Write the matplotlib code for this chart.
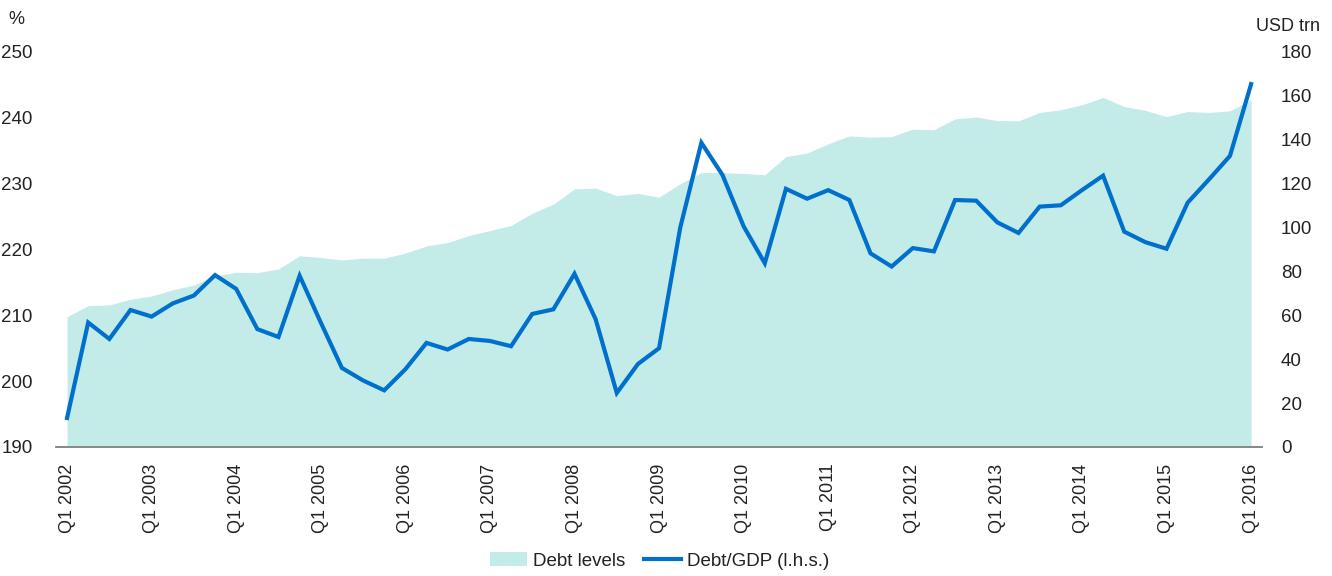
import matplotlib
matplotlib.use("Agg")
import matplotlib.pyplot as plt
from matplotlib.patches import Patch
from matplotlib.lines import Line2D
import numpy as np

plt.rcParams['font.family'] = ['Liberation Sans', 'DejaVu Sans']

# quarterly, Q1 2002 .. Q1 2016
quarters = [f"Q{q} {y}" for y in range(2002, 2017) for q in range(1, 5)][:57]
year_labels = [f"Q1 {y}" for y in range(2002, 2017)]

# Debt/GDP (%), left axis
debt_gdp = [194.4, 208.9, 206.4, 210.8, 209.8, 211.8, 213.0, 216.1, 214.0, 207.9,
            206.7, 216.0, 208.9, 202.0, 200.1, 198.6, 201.8, 205.8, 204.8, 206.4,
            206.1, 205.3, 210.2, 210.9, 216.3, 209.4, 198.2, 202.6, 205.0, 223.3,
            236.2, 231.3, 223.5, 217.9, 229.2, 227.7, 229.0, 227.5, 219.4, 217.4,
            220.2, 219.7, 227.5, 227.4, 224.1, 222.5, 226.5, 226.7, 229.0, 231.2,
            222.7, 221.1, 220.1, 227.1, 230.6, 234.2, 245.1]

# Debt levels (USD trn), right axis
debt_levels = [59.4, 64.4, 64.7, 67.3, 68.8, 71.6, 73.8, 77.9, 79.6, 79.4,
               81.1, 87.1, 86.3, 85.2, 86.0, 86.0, 88.3, 91.6, 93.1, 96.3,
               98.6, 100.9, 106.5, 110.6, 117.6, 117.9, 114.5, 115.5, 113.8, 119.9,
               125.0, 125.0, 124.6, 124.0, 132.3, 133.9, 138.1, 141.7, 141.1, 141.4,
               144.8, 144.5, 149.5, 150.3, 148.7, 148.6, 152.4, 153.6, 155.9, 159.2,
               155.1, 153.3, 150.5, 152.8, 152.4, 153.1, 158.2]

fill_color = '#C3ECE9'
line_color = '#0070CC'
text_color = '#222222'

x = np.arange(len(quarters))

fig = plt.figure(figsize=(13.32, 5.76), dpi=100)
ax = fig.add_axes([0.0424, 0.224, 0.9048, 0.686])
ax2 = ax.twinx()

ax2.fill_between(x, 0, debt_levels, color=fill_color, linewidth=0)
ax.plot(x, debt_gdp, color=line_color, linewidth=3, solid_joinstyle='miter')

# line above the area
ax.set_zorder(ax2.get_zorder() + 1)
ax.patch.set_visible(False)

ax.set_xlim(-0.5, 56.5)
ax.set_ylim(190, 250)
ax2.set_ylim(0, 180)
ax.set_yticks(range(190, 251, 10))
ax2.set_yticks(range(0, 181, 20))
ax.set_xticks(range(0, 57, 4))
ax.set_xticklabels(year_labels, rotation=90)

for a in (ax, ax2):
    for s in ('top', 'left', 'right'):
        a.spines[s].set_visible(False)
    a.spines['bottom'].set_color('#888888')
    a.spines['bottom'].set_linewidth(1.2)
    a.tick_params(length=0, labelsize=13.5, colors=text_color)
ax.tick_params(axis='y', pad=17)
ax2.tick_params(axis='y', pad=14)
ax.tick_params(axis='x', pad=12, labelsize=13)

fig.text(8 / 1332, 1 - 24 / 576, '%', fontsize=13, color=text_color)
fig.text(1256 / 1332, 1 - 31 / 576, 'USD trn', fontsize=13, color=text_color)

handles = [Patch(facecolor=fill_color, edgecolor='none'),
           Line2D([0], [0], color=line_color, linewidth=3)]
fig.legend(handles, ['Debt levels', 'Debt/GDP (l.h.s.)'], loc='center',
           bbox_to_anchor=(0.495, 1 - 561 / 576), ncol=2, frameon=False,
           fontsize=13.5, handlelength=2.0, handletextpad=0.3, columnspacing=1.0,
           labelcolor=text_color)

fig.savefig('out.png', dpi=100)
